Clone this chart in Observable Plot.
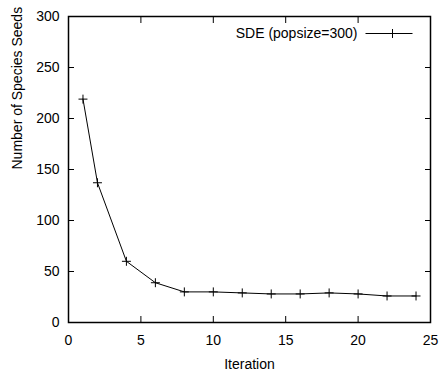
<!DOCTYPE html>
<html>
<head>
<meta charset="utf-8">
<script src="https://cdn.jsdelivr.net/npm/d3@7"></script>
<script src="https://cdn.jsdelivr.net/npm/@observablehq/plot@0.6"></script>
<style>
  html, body { margin: 0; padding: 0; background: #fff; }
  #chart svg { display: block; }
</style>
</head>
<body>
<div id="chart"></div>
<script>
const iterations = [1, 2, 4, 6, 8, 10, 12, 14, 16, 18, 20, 22, 24];
const speciesSeeds = [219, 137, 60, 39, 30, 30, 29, 28, 28, 29, 28, 26, 26];
const xTicks = [0, 5, 10, 15, 20, 25];
const yTicks = [0, 50, 100, 150, 200, 250, 300];
const seriesLabel = "SDE (popsize=300)";
const xLabel = "Iteration";
const yLabel = "Number of Species Seeds";

const data = iterations.map((x, i) => ({x, y: speciesSeeds[i]}));
const legendLine = {draw(ctx) { ctx.moveTo(-23.5, 0); ctx.lineTo(23.5, 0); }};

const chart = Plot.plot({
  width: 439,
  height: 372,
  marginLeft: 68,
  marginRight: 9,
  marginTop: 16,
  marginBottom: 50,
  style: {fontFamily: "'Liberation Sans', Arial, Helvetica, sans-serif", fontSize: "14px", color: "#000", background: "#fff"},
  x: {domain: [0, 25]},
  y: {domain: [0, 300]},
  marks: [
    Plot.axisX(xTicks, {anchor: "bottom", tickSize: -6, tickPadding: 19, label: null, stroke: "#000"}),
    Plot.axisX(xTicks.slice(1, -1), {anchor: "top", tickSize: -6, tickFormat: () => "", label: null}),
    Plot.axisY(yTicks, {anchor: "left", tickSize: -6, tickPadding: 15, label: null}),
    Plot.axisY(yTicks.slice(1, -1), {anchor: "right", tickSize: -6, tickFormat: () => "", label: null}),
    Plot.frame({stroke: "#000", strokeWidth: 1.5}),
    Plot.line(data, {x: "x", y: "y", stroke: "#000", strokeWidth: 1}),
    Plot.dot(data, {x: "x", y: "y", symbol: "plus", r: 3, stroke: "#000", strokeWidth: 1}),
    Plot.text([seriesLabel], {frameAnchor: "top-right", dx: -73, dy: 17, textAnchor: "end", lineAnchor: "middle", fontSize: 14}),
    Plot.dot([seriesLabel], {frameAnchor: "top-right", dx: -41.5, dy: 17, symbol: legendLine, stroke: "#000", strokeWidth: 1}),
    Plot.dot([seriesLabel], {frameAnchor: "top-right", dx: -38, dy: 17, symbol: "plus", r: 3, stroke: "#000", strokeWidth: 1}),
    Plot.text([xLabel], {frameAnchor: "bottom", dy: 42, lineAnchor: "middle", fontSize: 14}),
    Plot.text([yLabel], {frameAnchor: "left", dx: -51, rotate: -90, lineAnchor: "middle", fontSize: 14})
  ]
});
document.getElementById("chart").appendChild(chart);
</script>
</body>
</html>
